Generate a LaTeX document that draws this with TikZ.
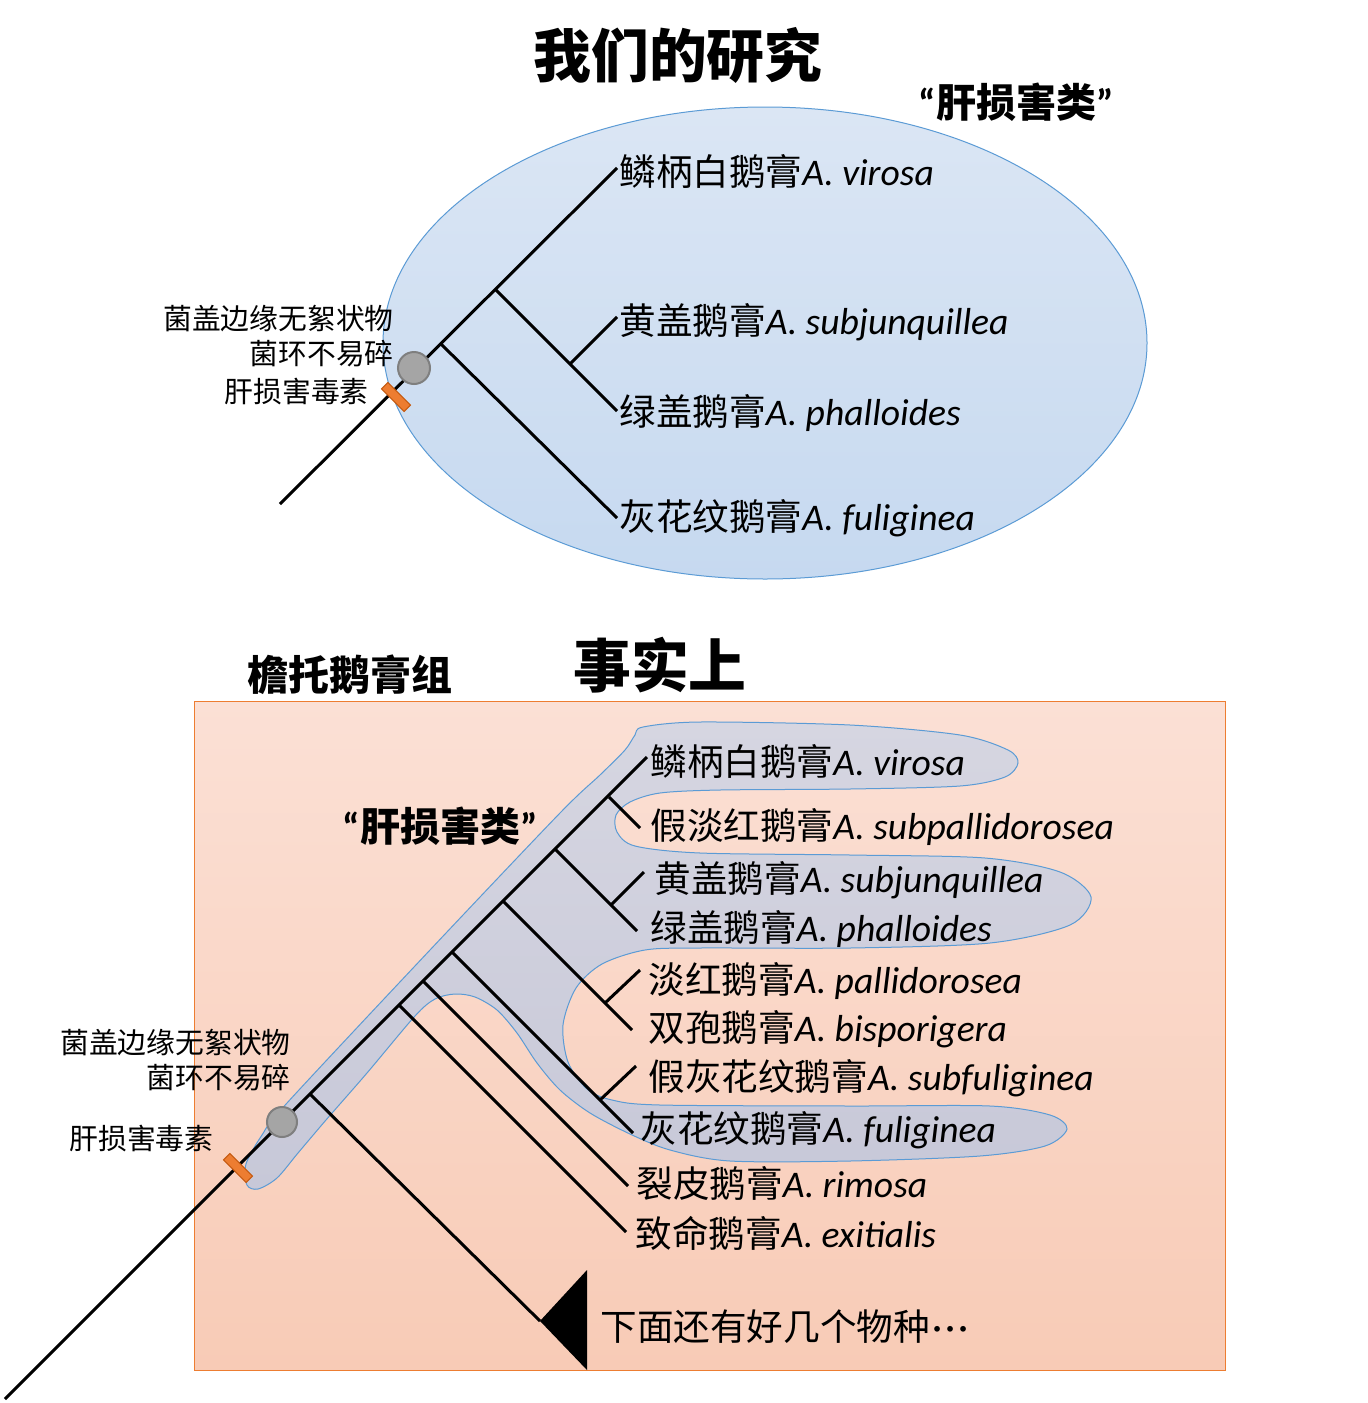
\documentclass[tikz,border=0pt]{standalone}
\usepackage{fontspec}
\newfontfamily\cjk{Noto Sans CJK SC}
\newfontfamily\lat{Carlito}
\newcommand\spec[2]{{\cjk #1}{\lat\itshape\fontsize{18.8pt}{22pt}\selectfont #2}}
\newcommand\qt[1]{{\lat\bfseries “}#1{\lat\bfseries ”}}
\definecolor{elltop}{RGB}{219,230,244}
\definecolor{ellbot}{RGB}{198,217,240}
\definecolor{blueline}{RGB}{91,155,213}
\definecolor{peachtop}{RGB}{251,224,213}
\definecolor{peachbot}{RGB}{248,203,182}
\definecolor{orangeline}{RGB}{237,125,49}
\definecolor{blobtop}{RGB}{214,214,225}
\definecolor{blobbot}{RGB}{199,200,216}
\definecolor{knotfill}{RGB}{165,165,165}
\definecolor{knotline}{RGB}{127,127,127}
\definecolor{markfill}{RGB}{237,125,49}
\definecolor{markline}{RGB}{197,90,17}
\tikzset{
  treeline/.style={line width=1.5pt, black},
  splabel/.style={anchor=base west, inner sep=0pt, font=\fontsize{18.3pt}{22pt}\selectfont},
  sidelabel/.style={anchor=base east, inner sep=0pt, font=\cjk\fontsize{14.4pt}{17pt}\selectfont},
  titlelabel/.style={inner sep=0pt, font=\cjk\bfseries\fontsize{28.9pt}{34pt}\selectfont},
  headlabel/.style={inner sep=0pt, font=\cjk\bfseries\fontsize{20pt}{24pt}\selectfont},
  knot/.style={circle, fill=knotfill, draw=knotline, line width=1pt, inner sep=0pt},
  marker/.style={rectangle, fill=markfill, draw=markline, line width=0.5pt, minimum width=16pt, minimum height=4.5pt, inner sep=0pt, rotate=-45},
  ellblob/.style={top color=elltop, bottom color=ellbot, draw=blueline, line width=0.5pt},
  peachbox/.style={top color=peachtop, bottom color=peachbot, draw=orangeline, line width=0.5pt},
  grayblob/.style={top color=blobtop, bottom color=blobbot, draw=blueline, line width=0.5pt}
}
\begin{document}
\begin{tikzpicture}[x=0.5pt,y=-0.5pt]
\useasboundingbox (0,0) rectangle (1367,1403);
\fill[white] (0,0) rectangle (1367,1403);

% ================= TOP =================
\node[titlelabel] (title1) at (678,55) {我们的研究};
\node[headlabel] (hep1) at (1016,102) {\qt{肝损害类}};
\path[ellblob] (765,343) ellipse [x radius=382, y radius=236];

\coordinate (troot) at (280,504);
\coordinate (tn1) at (441,344);
\coordinate (tn2) at (496,290);
\coordinate (tn3) at (570,364);
\coordinate (ttv) at (617,168);
\coordinate (tts) at (617,317);
\coordinate (ttp) at (617,411);
\coordinate (ttf) at (617,518);
\draw[treeline] (troot) -- (ttv);
\draw[treeline] (tn1) -- (ttf);
\draw[treeline] (tn2) -- (ttp);
\draw[treeline] (tn3) -- (tts);

\node[knot, minimum size=16pt] (tknot) at (414,368) {};
\node[marker] (tmark) at (396,397) {};

\node[sidelabel] (tl1) at (394,329) {菌盖边缘无絮状物};
\node[sidelabel] (tl2) at (394,364) {菌环不易碎};
\node[sidelabel] (tl3) at (369,402) {肝损害毒素};

\node[splabel] (tv) at (619,185) {\spec{鳞柄白鹅膏}{A. virosa}};
\node[splabel] (ts) at (619,334) {\spec{黄盖鹅膏}{A. subjunquillea}};
\node[splabel] (tp) at (619,425) {\spec{绿盖鹅膏}{A. phalloides}};
\node[splabel] (tf) at (619,530) {\spec{灰花纹鹅膏}{A. fuliginea}};

% ================= BOTTOM =================
\node[headlabel, font=\cjk\bfseries\fontsize{20.5pt}{24pt}\selectfont] (sect) at (350,675) {檐托鹅膏组};
\node[titlelabel] (title2) at (660,665) {事实上};
\path[peachbox] (194,701) rectangle (1225,1370);

\path[grayblob] plot[smooth cycle, tension=0.5] coordinates {
(643,727) (700,722) (850,725) (960,735) (1008,750) (1018,763) (1005,777) (960,786)
(850,789) (720,790) (660,793) (630,802) (616,815) (617,832) (635,846) (700,853)
(850,855) (985,858) (1060,872) (1091,897) (1070,925) (990,943) (850,948) (700,948)
(645,950) (602,964) (576,988) (563,1025) (568,1062) (587,1089) (612,1100) (660,1105)
(850,1106) (990,1106) (1050,1115) (1067,1129) (1045,1146) (980,1156) (850,1161) (730,1161)
(670,1150) (630,1134) (590,1113) (560,1090) (537,1063) (517,1033) (497,1010) (475,997)
(455,994) (435,999) (415,1016) (367,1073) (326,1120) (298,1153) (277,1178) (258,1189)
(247,1185) (246,1164) (262,1135) (287,1103) (430,950) (560,813) (600,775) (625,750) (635,735)};

\node[headlabel] (hep2) at (440,826) {\qt{肝损害类}};

\coordinate (broot) at (5,1399);
\coordinate (btip) at (647,757);
\coordinate (b1) at (310,1094);
\coordinate (b2) at (399,1005);
\coordinate (b3) at (423,981);
\coordinate (b4) at (452,952);
\coordinate (b4s) at (600,1100);
\coordinate (b5) at (503,901);
\coordinate (b5s) at (605,1003);
\coordinate (b6) at (555,849);
\coordinate (b6s) at (611,905);
\coordinate (b7) at (609,797);
\coordinate (trip) at (540,1321);
\coordinate (trit) at (587,1270);
\coordinate (trib) at (587,1370);
\coordinate (bex) at (626,1232);
\coordinate (bri) at (628,1186);
\coordinate (bfu) at (633,1133);
\coordinate (bsf) at (636,1066);
\coordinate (bbi) at (632,1030);
\coordinate (bpa) at (640,970);
\coordinate (bph) at (637,931);
\coordinate (bsj) at (644,872);
\coordinate (bsp) at (640,828);

\draw[treeline] (broot) -- (btip);
\draw[treeline] (b1) -- (trip);
\draw[treeline] (b2) -- (bex);
\draw[treeline] (b3) -- (bri);
\draw[treeline] (b4) -- (bfu);
\draw[treeline] (b4s) -- (bsf);
\draw[treeline] (b5) -- (bbi);
\draw[treeline] (b5s) -- (bpa);
\draw[treeline] (b6) -- (bph);
\draw[treeline] (b6s) -- (bsj);
\draw[treeline] (b7) -- (bsp);
\fill[black] (trip) -- (trit) -- (trib) -- cycle;

\node[knot, minimum size=15pt] (bknot) at (282,1122) {};
\node[marker] (bmark) at (238,1168) {};

\node[sidelabel] (bl1) at (291,1053) {菌盖边缘无絮状物};
\node[sidelabel] (bl2) at (291,1088) {菌环不易碎};
\node[sidelabel] (bl3) at (214,1149) {肝损害毒素};

\node[splabel] (sv) at (650,775) {\spec{鳞柄白鹅膏}{A. virosa}};
\node[splabel] (ssp) at (650,839) {\spec{假淡红鹅膏}{A. subpallidorosea}};
\node[splabel] (ssj) at (654,892) {\spec{黄盖鹅膏}{A. subjunquillea}};
\node[splabel] (sph) at (650,941) {\spec{绿盖鹅膏}{A. phalloides}};
\node[splabel] (spa) at (648,993) {\spec{淡红鹅膏}{A. pallidorosea}};
\node[splabel] (sbi) at (648,1041) {\spec{双孢鹅膏}{A. bisporigera}};
\node[splabel] (ssf) at (648,1090) {\spec{假灰花纹鹅膏}{A. subfuliginea}};
\node[splabel] (sfu) at (640,1142) {\spec{灰花纹鹅膏}{A. fuliginea}};
\node[splabel] (sri) at (636,1197) {\spec{裂皮鹅膏}{A. rimosa}};
\node[splabel] (sex) at (635,1247) {\spec{致命鹅膏}{A. exitialis}};
\node[splabel] (smore) at (600,1340) {{\cjk 下面还有好几个物种}{\lat\fontsize{20pt}{22pt}\selectfont\kern1.5pt·\kern1.5pt·\kern1.5pt·}};
\end{tikzpicture}
\end{document}
